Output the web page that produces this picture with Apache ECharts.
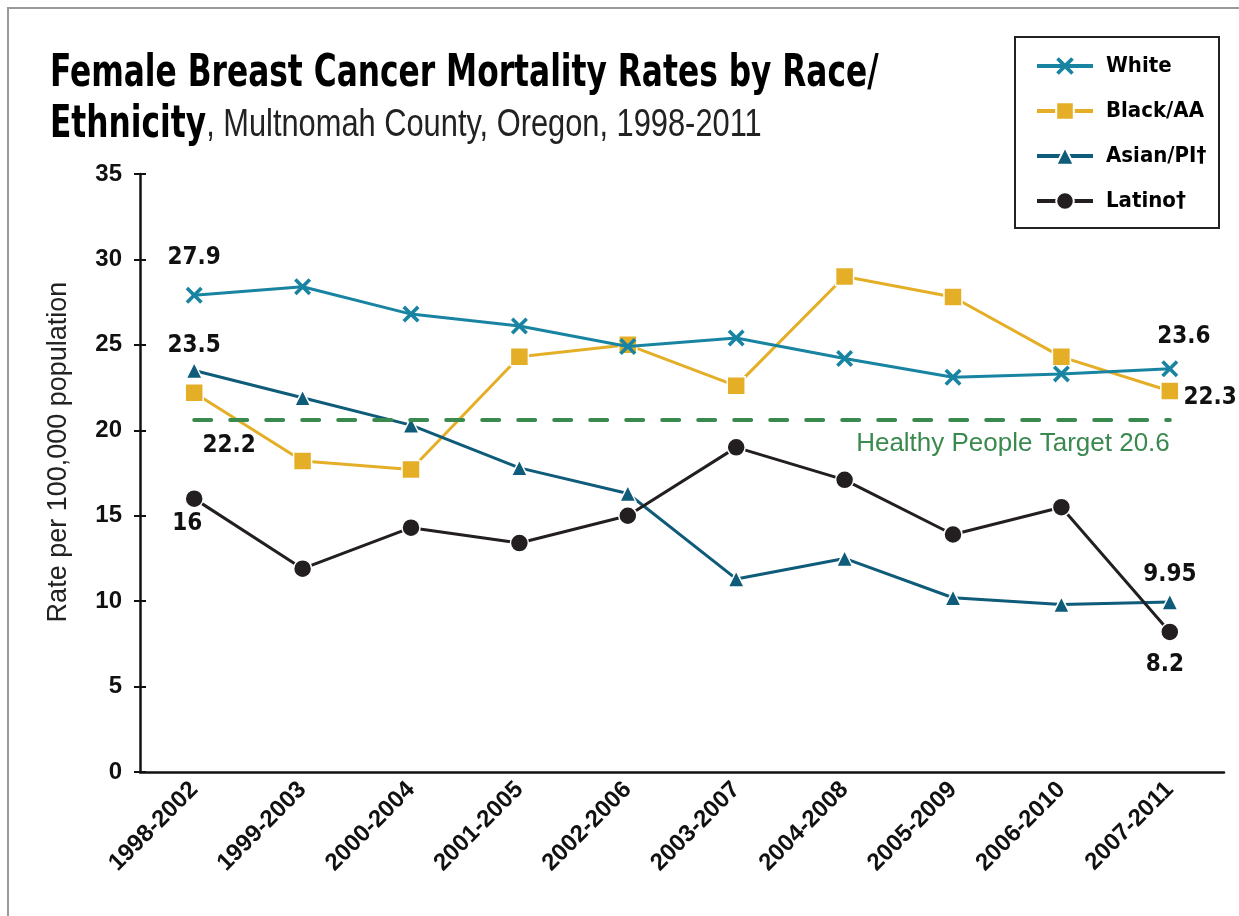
<!DOCTYPE html>
<html>
<head>
<meta charset="utf-8">
<script src="https://cdn.jsdelivr.net/npm/echarts@6/dist/echarts.min.js"></script>
<style>
  html, body { margin: 0; padding: 0; background: #fff; }
  #chart { width: 1239px; height: 916px; }
</style>
</head>
<body>
<div id="chart"></div>
<script>
  // 横轴（5年区间）
  let periods = ['1998-2002', '1999-2003', '2000-2004', '2001-2005', '2002-2006',
                 '2003-2007', '2004-2008', '2005-2009', '2006-2010', '2007-2011'];

  // 各族裔死亡率（每10万人）
  let white   = [27.9, 28.4, 26.8, 26.1, 24.9, 25.4, 24.2, 23.1, 23.3, 23.6];
  let black   = [22.2, 18.2, 17.7, 24.3, 25.0, 22.6, 29.0, 27.8, 24.3, 22.3];
  let asian   = [23.5, 21.9, 20.3, 17.8, 16.3, 11.3, 12.5, 10.2, 9.8, 9.95];
  let latino  = [16.0, 11.9, 14.3, 13.4, 15.0, 19.0, 17.1, 13.9, 15.5, 8.2];

  // 目标线
  let target = 20.6;
  let yTicks = [0, 5, 10, 15, 20, 25, 30, 35];

  let boldFont = '"DejaVu Sans Condensed", "Liberation Sans Narrow", "Liberation Sans", sans-serif';
  let plainFont = '"Liberation Sans", "DejaVu Sans", sans-serif';

  // 首尾两个点显示数值
  function withEndLabels(values, firstLabel, lastLabel) {
    return values.map((v, i) => {
      if (i === 0) return {value: v, label: Object.assign({show: true}, firstLabel)};
      if (i === values.length - 1) return {value: v, label: Object.assign({show: true}, lastLabel)};
      return v;
    });
  }

  let labelText = {
    color: '#111',
    fontFamily: boldFont,
    fontWeight: 'bold',
    fontSize: 24
  };

  let crossPath = 'path://M0,3 L3,0 L10,7 L17,0 L20,3 L13,10 L20,17 L17,20 L10,13 L3,20 L0,17 L7,10 Z';

  let myChart = echarts.init(document.getElementById('chart'));

  let option = {
    animation: false,
    backgroundColor: '#fff',
    legend: {
      orient: 'vertical',
      left: 1030,
      top: 50,
      itemWidth: 56,
      itemHeight: 22,
      itemGap: 23,
      lineStyle: {width: 4},
      textStyle: {
        fontFamily: boldFont,
        fontWeight: 'bold',
        fontSize: 22,
        color: '#000',
        padding: [0, 0, 0, 8]
      },
      data: ['White', 'Black/AA', 'Asian/PI†', 'Latino†']
    },
    graphic: [
      {
        type: 'rect',
        shape: {x: 8, y: 8, width: 1240, height: 920},
        style: {fill: 'none', stroke: '#9a9a9a', lineWidth: 2},
        silent: true
      },
      {
        type: 'rect',
        shape: {x: 1015, y: 37, width: 204, height: 191},
        style: {fill: 'none', stroke: '#222', lineWidth: 2},
        silent: true
      },
      {
        // 标题（横向压缩模拟窄体字）
        type: 'text',
        x: 50,
        y: 49,
        scaleX: 0.79,
        silent: true,
        style: {
          text: '{b|Female Breast Cancer Mortality Rates by Race/}\n{b|Ethnicity}{r|, Multnomah County, Oregon, 1998-2011}',
          rich: {
            b: {fontFamily: boldFont, fontWeight: 'bold', fontSize: 44, fill: '#000', lineHeight: 51},
            r: {fontFamily: plainFont, fontWeight: 'normal', fontSize: 39, fill: '#222', lineHeight: 51}
          }
        }
      }
    ],
    grid: {
      left: 140,
      right: 15,
      top: 174,
      bottom: 144
    },
    xAxis: [
      {
        type: 'category',
        data: periods,
        boundaryGap: true,
        axisLine: {lineStyle: {color: '#111', width: 2.5}},
        axisTick: {alignWithLabel: true, length: 6, lineStyle: {color: '#111', width: 2}},
        axisLabel: {
          rotate: 45,
          margin: 14,
          color: '#111',
          fontFamily: plainFont,
          fontWeight: 'bold',
          fontSize: 24
        },
        splitLine: {show: false}
      },
      {
        // 内侧刻度，形成十字刻度
        type: 'category',
        data: periods,
        position: 'bottom',
        boundaryGap: true,
        axisLine: {show: false},
        axisTick: {inside: true, alignWithLabel: true, length: 6, lineStyle: {color: '#111', width: 2}},
        axisLabel: {show: false},
        splitLine: {show: false}
      }
    ],
    yAxis: [
      {
        type: 'value',
        min: yTicks[0],
        max: yTicks[yTicks.length - 1],
        interval: 5,
        name: 'Rate per 100,000 population',
        nameLocation: 'middle',
        nameGap: 68,
        nameTextStyle: {fontFamily: plainFont, fontSize: 27, color: '#222', padding: [0, 0, 0, 42]},
        axisLine: {show: true, lineStyle: {color: '#111', width: 2.5}},
        axisTick: {show: true, length: 6, lineStyle: {color: '#111', width: 2}},
        axisLabel: {
          margin: 18,
          color: '#111',
          fontFamily: plainFont,
          fontWeight: 'bold',
          fontSize: 24
        },
        splitLine: {show: false}
      },
      {
        type: 'value',
        position: 'left',
        min: yTicks[0],
        max: yTicks[yTicks.length - 1],
        interval: 5,
        axisLine: {show: false},
        axisTick: {show: true, inside: true, length: 6, lineStyle: {color: '#111', width: 2}},
        axisLabel: {show: false},
        splitLine: {show: false}
      }
    ],
    series: [
      {
        name: 'White',
        type: 'line',
        data: withEndLabels(white,
          Object.assign({position: 'top', distance: 17}, labelText),
          Object.assign({position: 'top', distance: 12, offset: [14, 0]}, labelText)),
        symbol: crossPath,
        symbolSize: 17,
        lineStyle: {color: '#1884a2', width: 3},
        itemStyle: {color: '#1884a2', borderWidth: 0},
        z: 4,
        markLine: {
          silent: true,
          symbol: 'none',
          lineStyle: {color: '#3a8a50', width: 4, type: [17, 19], cap: 'round'},
          label: {
            show: true,
            position: 'insideEndBottom',
            formatter: 'Healthy People Target ' + target,
            color: '#3a8a50',
            fontFamily: plainFont,
            fontSize: 26,
            distance: [0, 11]
          },
          data: [[{coord: [0, target]}, {coord: [periods.length - 1, target]}]]
        }
      },
      {
        name: 'Black/AA',
        type: 'line',
        data: withEndLabels(black,
          Object.assign({position: 'bottom', distance: 31, offset: [35, 0]}, labelText),
          Object.assign({position: 'right', distance: 4, offset: [0, 7]}, labelText)),
        symbol: 'rect',
        symbolSize: 18,
        lineStyle: {color: '#e5ae27', width: 3},
        itemStyle: {color: '#e5ae27', borderColor: '#fff', borderWidth: 1.5},
        z: 3
      },
      {
        name: 'Asian/PI†',
        type: 'line',
        data: withEndLabels(asian,
          Object.assign({position: 'top', distance: 4}, labelText),
          Object.assign({position: 'top', distance: 6}, labelText)),
        symbol: 'triangle',
        symbolSize: 16,
        lineStyle: {color: '#0e5b7a', width: 3},
        itemStyle: {color: '#0e5b7a', borderColor: '#fff', borderWidth: 1.5},
        z: 3
      },
      {
        name: 'Latino†',
        type: 'line',
        data: withEndLabels(latino,
          Object.assign({position: 'bottom', distance: 3, offset: [-7, 0]}, labelText),
          Object.assign({position: 'bottom', distance: 11, offset: [-5, 0]}, labelText)),
        symbol: 'circle',
        symbolSize: 18,
        lineStyle: {color: '#231f20', width: 3},
        itemStyle: {color: '#231f20', borderColor: '#fff', borderWidth: 1.5},
        z: 3
      }
    ]
  };

  myChart.setOption(option);
</script>
</body>
</html>
